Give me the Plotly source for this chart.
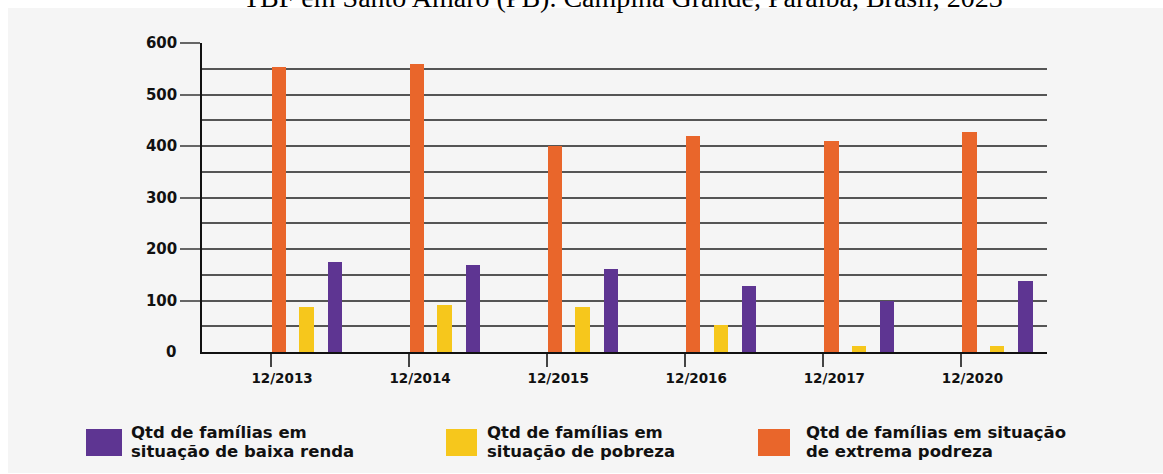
import plotly.graph_objects as go

categories = ["12/2013", "12/2014", "12/2015", "12/2016", "12/2017", "12/2020"]
extrema_pobreza = [553, 560, 400, 419, 409, 427]
pobreza = [87, 92, 87, 52, 11, 11]
baixa_renda = [174, 169, 162, 129, 100, 138]
y_ticks = [100, 200, 300, 400, 500, 600]

series_names = [
    "Qtd de famílias em situação de extrema podreza",
    "Qtd de famílias em situação de pobreza",
    "Qtd de famílias em situação de baixa renda",
]
colors = ["#E9662B", "#F6C71C", "#5E3592"]

W, H = 1163, 474
L, R, T, B = 202, 116, 43, 122
PW, PH = W - L - R, H - T - B


def px(x):
    return (x - L) / PW


def py(y):
    return (H - B - y) / PH


FONT = "DejaVu Sans"

fig = go.Figure()
for vals, name, col, off in zip(
    [extrema_pobreza, pobreza, baixa_renda], series_names, colors, [0.005, 0.205, 0.41]
):
    fig.add_trace(
        go.Bar(
            x=categories,
            y=vals,
            name=name,
            marker=dict(color=col, line=dict(width=0)),
            offset=off,
            width=0.105,
            showlegend=False,
            hoverinfo="skip",
        )
    )

shapes = [
    dict(type="rect", xref="paper", yref="paper", x0=px(8), x1=px(W + 5), y0=py(473), y1=py(8),
         fillcolor="#f5f5f5", line=dict(width=0), layer="below"),
]
annotations = [
    dict(text="TBF em Santo Amaro (PB). Campina Grande, Paraíba, Brasil, 2023",
         xref="paper", yref="paper", x=px(623), y=py(15), xanchor="center", yanchor="bottom",
         showarrow=False, font=dict(family="Liberation Serif", size=28, color="#000")),
    dict(text="0", xref="paper", yref="y", x=px(178), y=0, xanchor="right", yanchor="middle",
         showarrow=False, font=dict(family=FONT, size=15, color="#111", weight="bold")),
]

legend_items = [
    (colors[2], 86, 122, 130, "Qtd de famílias em", "situação de baixa renda"),
    (colors[1], 446, 477, 486, "Qtd de famílias em", "situação de pobreza"),
    (colors[0], 758, 790, 805, "Qtd de famílias em situação", "de extrema podreza"),
]
for col, x0, x1, tx, l1, l2 in legend_items:
    shapes.append(dict(type="rect", xref="paper", yref="paper", x0=px(x0), x1=px(x1),
                       y0=py(456), y1=py(429), fillcolor=col, line=dict(width=0)))
    for txt, yy in ((l1, 433), (l2, 451.5)):
        annotations.append(dict(text=txt, xref="paper", yref="paper", x=px(tx), y=py(yy),
                                xanchor="left", yanchor="middle", align="left", showarrow=False,
                                borderpad=0,
                                font=dict(family=FONT, size=16.5, color="#111", weight="bold")))

fig.update_layout(
    width=W, height=H,
    margin=dict(l=L, r=R, t=T, b=B, pad=0),
    paper_bgcolor="white",
    plot_bgcolor="rgba(0,0,0,0)",
    shapes=shapes,
    annotations=annotations,
    bargap=0,
    xaxis=dict(
        type="category",
        range=[-0.5, 5.62],
        showline=True, linecolor="#111", linewidth=1.5,
        ticks="outside", ticklen=13, tickcolor="#444", tickwidth=1.5,
        showgrid=False, zeroline=False,
        ticklabelshift=11,
        tickfont=dict(family=FONT, size=13.5, color="#111", weight="bold"),
    ),
    yaxis=dict(
        range=[0, 600],
        tickvals=y_ticks,
        showline=True, linecolor="#111", linewidth=1.5,
        ticks="outside", ticklen=20, tickcolor="#666", tickwidth=1.5,
        showgrid=True, gridcolor="#555", gridwidth=1.5,
        zeroline=False,
        minor=dict(dtick=50, showgrid=True, gridcolor="#555", gridwidth=1.5, ticks=""),
        tickfont=dict(family=FONT, size=15, color="#111", weight="bold"),
    ),
)

fig.write_html("out.html", config={"displayModeBar": False},
               post_script="document.body.style.margin='0';")
